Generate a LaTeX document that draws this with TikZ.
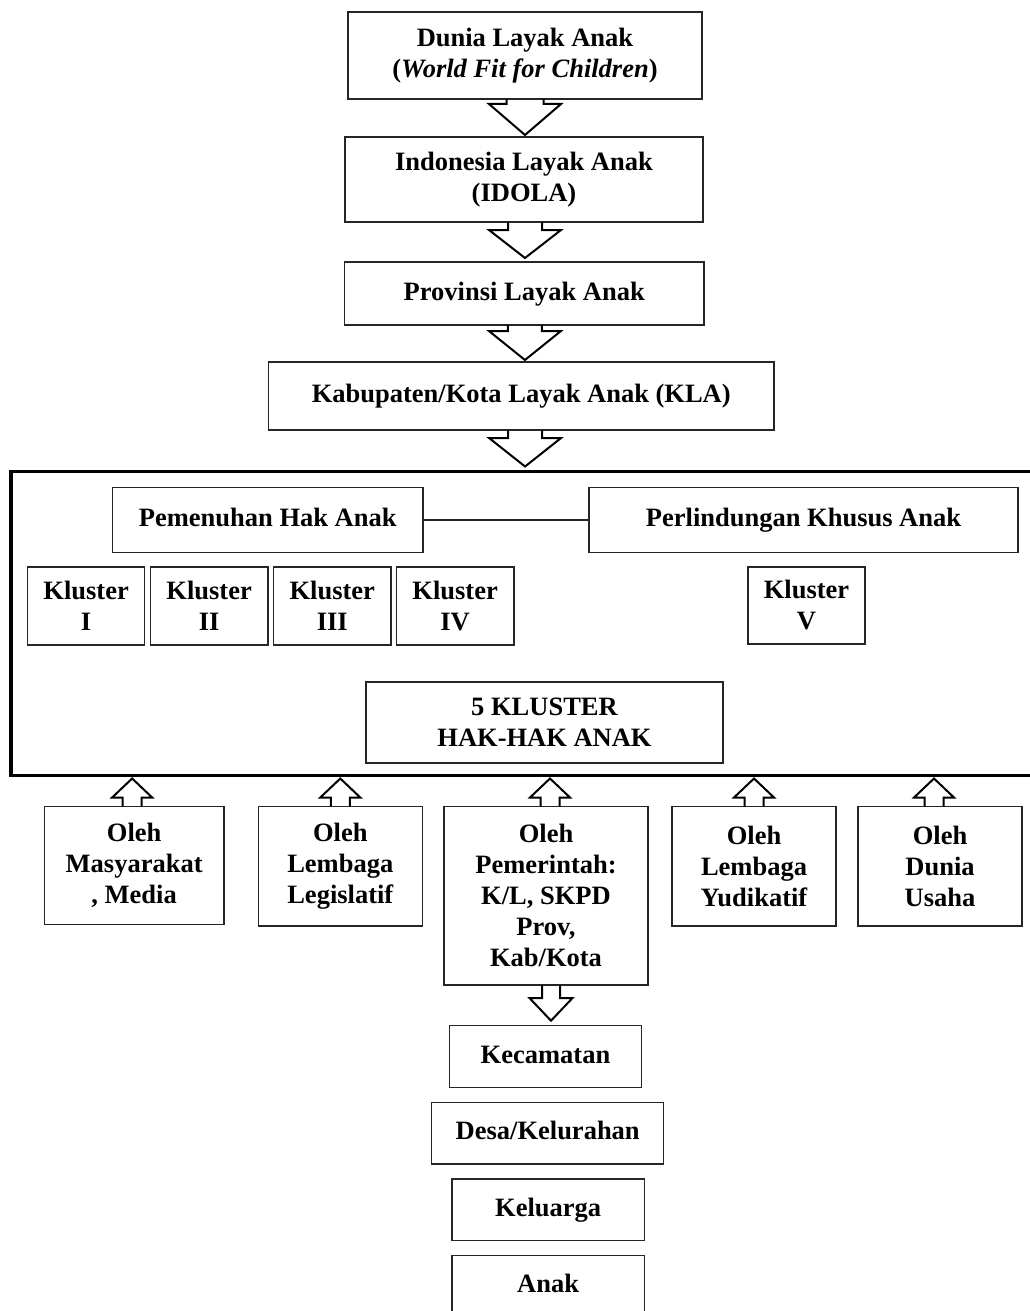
\documentclass[tikz,border=0pt]{standalone}
\usepackage{fontspec}
\setmainfont{Liberation Serif}
\usetikzlibrary{calc}
\tikzset{
  bx/.style={draw=black!85, line width=1.5pt, align=center, inner sep=0pt, outer sep=0pt,
    font=\bfseries\fontsize{26.5}{31}\selectfont},
  one/.style={text height=19pt, text depth=6pt},
  frm/.style={draw=black, line width=3.2pt, inner sep=0pt, outer sep=0pt},
  barrow/.style={draw=black, line width=2pt, line join=miter},
  link/.style={draw=black!85, line width=1.3pt}
}
% [extra style] name, x1, y1, x2, y2, text
\newcommand\boxn[7][]{\node[bx, #1, minimum width={(#5-#3)*1pt}, minimum height={(#6-#4)*1pt}] (#2) at ({(#3+#5)/2},{(#4+#6)/2}) {#7};}
% from, to, shaft half, head half, shaft length, gap, shift
\newcommand\darr[7]{\draw[barrow] let \p1=(#1.south), \p2=(#2.north) in
  (\x1+#7pt-#3pt,\y1) -- (\x1+#7pt-#3pt,\y1-#5pt) -- (\x1+#7pt-#4pt,\y1-#5pt) -- (\x1+#7pt,\y2+#6pt)
  -- (\x1+#7pt+#4pt,\y1-#5pt) -- (\x1+#7pt+#3pt,\y1-#5pt) -- (\x1+#7pt+#3pt,\y1);}
\newcommand\uarr[7]{\draw[barrow] let \p1=(#1.north), \p2=(#2.south) in
  (\x1+#7pt-#3pt,\y1) -- (\x1+#7pt-#3pt,\y1+#5pt) -- (\x1+#7pt-#4pt,\y1+#5pt) -- (\x1+#7pt,\y2-#6pt)
  -- (\x1+#7pt+#4pt,\y1+#5pt) -- (\x1+#7pt+#3pt,\y1+#5pt) -- (\x1+#7pt+#3pt,\y1);}
\begin{document}
\begin{tikzpicture}[x=1pt, y=-1pt]
\useasboundingbox (0,0) rectangle (1030,1311);
\fill[white] (0,0) rectangle (1030,1311);
\clip (0,0) rectangle (1030,1311);

\boxn{b1}{348}{12}{702}{99}{Dunia Layak Anak\\(\textit{World Fit for Children})}
\boxn{b2}{345}{137}{703}{222}{Indonesia Layak Anak\\(IDOLA)}
\boxn[one]{b3}{344.5}{262}{704}{325}{Provinsi Layak Anak}
\boxn[one]{b4}{268.5}{362}{774}{430}{Kabupaten/Kota Layak Anak (KLA)}

\node[frm, minimum width=1022pt, minimum height=304pt] (frame) at (522,623.5) {};

\boxn[one]{pem}{112.5}{487.5}{423}{552.5}{Pemenuhan Hak Anak}
\boxn[one]{per}{589}{487.5}{1018}{552.5}{Perlindungan Khusus Anak}
\draw[link] (pem.east) -- (per.west);

\boxn{k1}{27.7}{567}{144.6}{645}{Kluster\\I}
\boxn{k2}{150.3}{567}{268}{645}{Kluster\\II}
\boxn{k3}{273.6}{567}{391}{645}{Kluster\\III}
\boxn{k4}{396.3}{567}{514}{645}{Kluster\\IV}
\boxn{k5}{748}{567}{865}{644}{Kluster\\V}

\boxn{lima}{366}{682}{723}{763}{5 KLUSTER\\HAK-HAK ANAK}

\boxn{om}{44.3}{806.5}{224}{924.5}{Oleh\\Masyarakat\\, Media}
\boxn{ol}{258.3}{806.5}{422.3}{926}{Oleh\\Lembaga\\Legislatif}
\boxn{op}{444}{806.5}{648}{985}{Oleh\\Pemerintah:\\K/L, SKPD\\Prov,\\Kab/Kota}
\boxn{oy}{672}{806.5}{836}{926}{Oleh\\Lembaga\\Yudikatif}
\boxn{od}{858}{806.5}{1022}{926}{Oleh\\Dunia\\Usaha}

\boxn[one]{kec}{449.3}{1025.7}{641.7}{1087.7}{Kecamatan}
\boxn[one]{desa}{431.7}{1102.3}{663.7}{1164}{Desa/Kelurahan}
\boxn[one]{kel}{452}{1179}{644.3}{1240.7}{Keluarga}
\boxn[one]{anak}{452}{1255.7}{644.3}{1316}{Anak}

% down block arrows
\darr{b1}{b2}{18.5}{36}{5}{2}{0}
\darr{b2}{b3}{17}{36}{8}{4}{1}
\darr{b3}{b4}{17}{36}{6}{2}{0.7}
\darr{b4}{frame}{17}{36}{8}{5}{3.8}
% up block arrows
\uarr{om}{frame}{9.5}{20}{9}{3}{-2}
\uarr{ol}{frame}{9.5}{20}{9}{3}{0}
\uarr{op}{frame}{9.5}{20}{9}{3}{4}
\uarr{oy}{frame}{9.5}{20}{9}{3}{0}
\uarr{od}{frame}{9.5}{20}{9}{3}{-6}
% down arrow to Kecamatan
\darr{op}{kec}{9}{21.5}{13}{5}{5}
\end{tikzpicture}
\end{document}
